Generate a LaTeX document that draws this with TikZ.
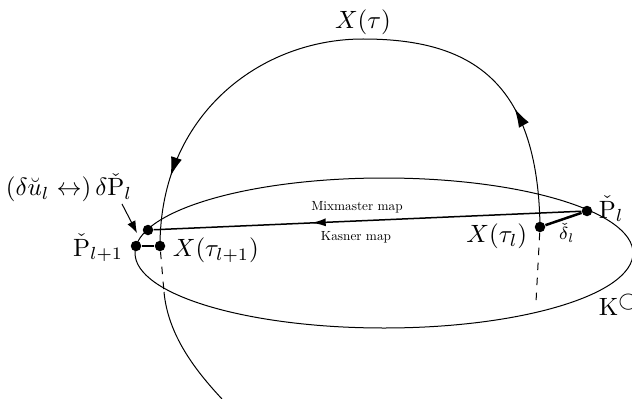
\documentclass[tikz,border=0pt]{standalone}
\usepackage{amsmath}
\usepackage{amssymb}
\usepackage{tikz}
\usetikzlibrary{arrows.meta,decorations.markings}

\tikzset{
  dot/.style={circle,fill,inner sep=0pt,minimum size=4.2pt},
  maplabel/.style={scale=0.53},
  midarrow/.style={postaction={decorate},
    decoration={markings,mark=at position #1 with {\arrow{Latex[length=7.5pt,width=4.5pt]}}}},
  maparrow/.style={postaction={decorate},
    decoration={markings,mark=at position #1 with {\arrow{Latex[length=5.5pt,width=3.2pt]}}}}
}

\begin{document}
\begin{tikzpicture}[x=0.4pt,y=-0.4pt,>=Latex]
  \useasboundingbox (0,0) rectangle (632,399);
  % Kasner circle seen from the side
  \draw (384,253) ellipse [x radius=249, y radius=75];
  \node[dot] (Pl) at (587,211) {};
  \node[dot] (Xl) at (540,227) {};
  \node[dot] (dPl) at (148,230) {};
  \node[dot] (Pnext) at (136,246) {};
  \node[dot] (Xnext) at (160,246) {};
  \coordinate (Xlow) at (536,302);
  \coordinate (top) at (363,39);
  \coordinate (cross) at (164,292);
  \coordinate (bottom) at (222,399);
  \coordinate (dPtip) at (137,233);
  % trajectory
  \draw[midarrow=0.41] (Xl.center) .. controls (538,80) and (470,39) .. (top);
  \draw[midarrow=0.78] (top) .. controls (260,39) and (160,115) .. (Xnext.center);
  \draw[dashed] (Xl) -- (Xlow);
  \draw[dashed] (Xnext) -- (cross);
  \draw (cross) .. controls (168,335) and (195,370) .. (bottom);
  % map
  \draw[semithick, maparrow=0.63] (Pl) -- (dPl);
  \draw[line width=1pt] (Pl) -- (Xl);
  \draw[line width=1pt] (Pnext) -- (Xnext);
  \node[maplabel] (mixlab) at (357,207) {Mixmaster map};
  \node[maplabel] (kaslab) at (356,237) {Kasner map};
  % labels
  \node (Xtau) at (363,22) {$X(\tau)$};
  \node[anchor=east] (Pnextlab) at (132,248) {$\check{\mathrm P}_{l+1}$};
  \node[anchor=west] (Xnextlab) at (164,250) {$X(\tau_{l+1})$};
  \node[anchor=east] (Xllab) at (536,236) {$X(\tau_l)$};
  \node[anchor=west] (Pllab) at (590,209) {$\check{\mathrm P}_l$};
  \node (deltalab) at (567,233) {$\scriptstyle\check\delta_l$};
  \node[anchor=west] (Klab) at (590,305) {$\mathrm K^{\bigcirc}$};
  \node (dulab) at (69,188) {$(\delta\breve u_l\leftrightarrow)\,\delta\check{\mathrm P}_l$};
  \draw[->] ([xshift=-7.6pt,yshift=2.8pt]dulab.south east) -- (dPtip);
\end{tikzpicture}
\end{document}
